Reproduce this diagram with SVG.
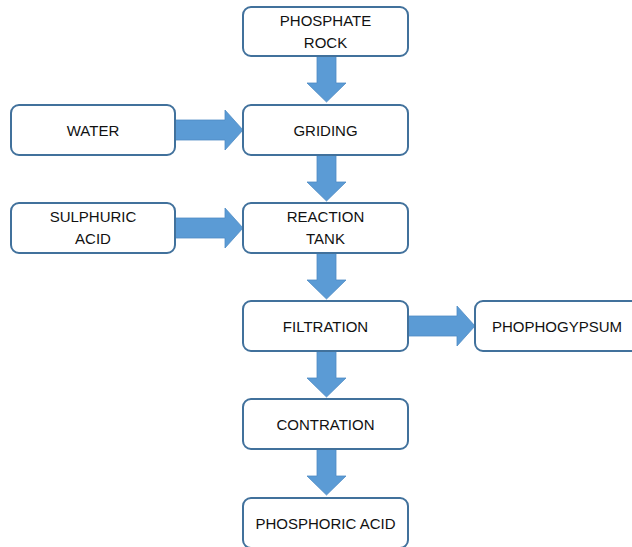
<svg xmlns="http://www.w3.org/2000/svg" width="632" height="547" viewBox="0 0 632 547">
<style>
.box{fill:#fff;stroke:#41719C;stroke-width:2}
.arr{fill:#5B9BD5;stroke:#4F8CC4;stroke-width:0.8}
text{font-family:"Liberation Sans",Arial,sans-serif;font-size:15px;fill:#111;text-anchor:middle}
</style>
<rect width="632" height="547" fill="#fff"/>
<g id="connectors">
<path class="arr" d="M317,56 H336 V83 H346 L326.5,102 L307,83 H317 Z"/>
<path class="arr" d="M317,155 H336 V182 H346 L326.5,201 L307,182 H317 Z"/>
<path class="arr" d="M317,253 H336 V280 H346 L326.5,299 L307,280 H317 Z"/>
<path class="arr" d="M317,351 H336 V378 H346 L326.5,397 L307,378 H317 Z"/>
<path class="arr" d="M317,449 H336 V476 H346 L326.5,495 L307,476 H317 Z"/>
<path class="arr" d="M175,120 H225 V110 L243,130 L225,150 V140 H175 Z"/>
<path class="arr" d="M175,218 H225 V208 L243,228 L225,248 V238 H175 Z"/>
<path class="arr" d="M408,316 H457 V306 L475,326 L457,346 V336 H408 Z"/>
</g>
<g id="phosphate-rock"><rect class="box" x="243" y="7" width="165" height="49" rx="8"/><text x="325.5" y="26">PHOSPHATE</text><text x="325.5" y="48">ROCK</text></g>
<g id="griding"><rect class="box" x="243" y="105" width="165" height="50" rx="8"/><text x="325.5" y="136">GRIDING</text></g>
<g id="water"><rect class="box" x="11" y="105" width="164" height="50" rx="8"/><text x="93" y="136">WATER</text></g>
<g id="reaction-tank"><rect class="box" x="243" y="203" width="165" height="50" rx="8"/><text x="325.5" y="222">REACTION</text><text x="325.5" y="244">TANK</text></g>
<g id="sulphuric-acid"><rect class="box" x="11" y="203" width="164" height="50" rx="8"/><text x="93" y="222">SULPHURIC</text><text x="93" y="244">ACID</text></g>
<g id="filtration"><rect class="box" x="243" y="301" width="165" height="50" rx="8"/><text x="325.5" y="332">FILTRATION</text></g>
<g id="phophogypsum"><rect class="box" x="475" y="301" width="165" height="50" rx="8"/><text x="557" y="332">PHOPHOGYPSUM</text></g>
<g id="contration"><rect class="box" x="243" y="399" width="165" height="50" rx="8"/><text x="325.5" y="430">CONTRATION</text></g>
<g id="phosphoric-acid"><rect class="box" x="243" y="498" width="165" height="50" rx="8"/><text x="325.5" y="529">PHOSPHORIC ACID</text></g>
</svg>
